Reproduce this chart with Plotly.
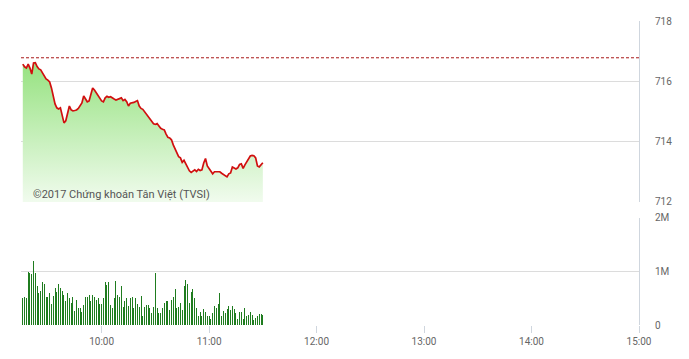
import pandas as pd
import plotly.graph_objects as go

# ---- data ----
ref_price = 716.78
price = [716.57, 716.48, 716.44, 716.57, 716.44, 716.24, 716.61, 716.62, 716.49, 716.41,
         716.38, 716.29, 716.18, 716.08, 716.04, 715.98, 715.78, 715.55, 715.25, 715.12,
         715.08, 715.12, 714.88, 714.62, 714.69, 714.95, 715.18, 715.05, 715.02, 715.03,
         715.05, 715.10, 715.20, 715.28, 715.51, 715.41, 715.32, 715.35, 715.55, 715.78,
         715.71, 715.61, 715.51, 715.41, 715.35, 715.32, 715.45, 715.50, 715.47, 715.49,
         715.44, 715.41, 715.38, 715.40, 715.44, 715.45, 715.36, 715.40, 715.32, 715.18,
         715.27, 715.28, 715.30, 715.33, 715.36, 715.18, 715.10, 715.07, 714.99, 714.94,
         714.85, 714.77, 714.69, 714.59, 714.57, 714.60, 714.52, 714.44, 714.41, 714.39,
         714.25, 714.14, 714.12, 714.06, 713.89, 713.76, 713.66, 713.50, 713.46, 713.31,
         713.38, 713.26, 713.11, 713.03, 712.98, 713.01, 713.06, 713.01, 713.08, 713.04,
         713.06, 713.29, 713.44, 713.19, 713.09, 713.00, 712.93, 713.00, 713.00, 713.01,
         713.00, 712.95, 712.91, 712.85, 712.83, 712.93, 712.96, 713.16, 713.13, 713.09,
         713.13, 713.24, 713.26, 713.11, 713.23, 713.34, 713.44, 713.52, 713.54, 713.53,
         713.46, 713.19, 713.16, 713.24, 713.30]

volume_m = [0.50,
            0.53, 0.51, 1.00, 0.97, 0.95, 1.20, 0.98, 0.72, 0.59, 0.64, 0.80, 0.76, 0.53, 0.53,
            0.59, 0.39, 0.55, 0.70, 0.62, 0.76, 0.69, 0.64, 0.57, 0.44, 0.59, 0.51, 0.41, 0.53,
            0.26, 0.47, 0.31, 0.31, 0.25, 0.37, 0.53, 0.53, 0.57, 0.44, 0.57, 0.53, 0.47,
            0.50, 0.39, 0.39, 0.50, 0.80, 0.75, 0.81, 0.37, 0.32, 0.50, 0.82, 0.56, 0.53, 0.72,
            0.34, 0.44, 0.50, 0.36, 0.51, 0.53, 0.31, 0.50, 0.39, 0.34, 0.54, 0.16, 0.34, 0.37,
            0.37, 0.31, 0.22, 0.34, 0.98, 0.31, 0.22, 0.22, 0.31, 0.41, 0.45, 0.44, 0.28, 0.47,
            0.53, 0.67, 0.31, 0.34, 0.41,
            0.28, 0.73, 0.84, 0.76, 0.41, 0.61, 0.67, 0.51, 0.31, 0.17, 0.24, 0.17, 0.30, 0.24,
            0.17, 0.17, 0.12, 0.22, 0.36, 0.31, 0.39, 0.59, 0.17, 0.26, 0.22, 0.30, 0.36, 0.28,
            0.36, 0.30, 0.22, 0.11, 0.25, 0.24, 0.12, 0.31, 0.17, 0.19, 0.24, 0.19, 0.09, 0.14,
            0.17, 0.20, 0.20, 0.19]

session_start = "2017-01-01 09:16"
times = pd.date_range(session_start, periods=len(price), freq="1min")

x_range = ["2017-01-01 09:15", "2017-01-01 15:00"]
x_tickvals = ["2017-01-01 10:00", "2017-01-01 11:00", "2017-01-01 12:00",
              "2017-01-01 13:00", "2017-01-01 14:00", "2017-01-01 15:00"]
x_ticktext = ["10:00", "11:00", "12:00", "13:00", "14:00", "15:00"]
price_ticks = [712, 714, 716, 718]
vol_ticks = [0, 1, 2]
vol_ticktext = ["0", "1M", "2M"]
watermark = "©2017 Chứng khoán Tân Việt (TVSI)"

GRID = "#dcdcdc"
FRAME = "#cfd6de"
TXT = "#666666"
FONT = "Roboto"

fig = go.Figure()
fig.add_trace(go.Scatter(
    x=times, y=price, mode="lines",
    line=dict(color="#d10f0f", width=1.7),
    fill="tozeroy",
    fillgradient=dict(type="vertical",
                      colorscale=[[0, "rgb(240,251,237)"], [1, "rgb(150,226,128)"]],
                      start=712, stop=716.6),
    yaxis="y", xaxis="x", hoverinfo="skip", showlegend=False))

# one bar = about one pixel wide (the axis gives ~1.79 px per minute)
bar_width_ms = 33500
fig.add_trace(go.Bar(
    x=times, y=volume_m, marker=dict(color="rgba(28,122,28,0.99)", line=dict(width=0)),
    width=bar_width_ms, yaxis="y2", xaxis="x", showlegend=False, hoverinfo="skip"))

fig.add_shape(type="line", xref="paper", x0=0, x1=1, yref="y", y0=ref_price, y1=ref_price,
              line=dict(color="#a81818", width=1, dash="3px,2px"))

fig.add_annotation(text=watermark, xref="paper", yref="y", x=0.016, y=712.23,
                   xanchor="left", yanchor="middle", showarrow=False,
                   font=dict(family=FONT, size=11, color="#555555"))

fig.update_layout(
    width=689, height=359,
    margin=dict(l=21, r=50, t=21, b=34),
    paper_bgcolor="white", plot_bgcolor="white",
    bargap=0,
    font=dict(family=FONT, size=10, color=TXT),
    xaxis=dict(type="date", range=x_range, anchor="y2",
               tickvals=x_tickvals, ticktext=x_ticktext,
               showgrid=False, zeroline=False, showline=False,
               ticks="outside", ticklen=7, tickcolor=FRAME,
               tickfont=dict(family=FONT, size=10, color=TXT)),
    yaxis=dict(domain=[0.405, 1.0], range=[712, 718], side="right", anchor="x",
               tickvals=price_ticks, showgrid=True, gridcolor=GRID, zeroline=False,
               showline=True, linecolor=FRAME, linewidth=1,
               ticks="outside", ticklen=13, tickcolor="rgba(0,0,0,0)",
               tickfont=dict(family=FONT, size=10, color=TXT)),
    yaxis2=dict(domain=[0.0, 0.352], range=[0, 2], side="right", anchor="x",
                tickvals=vol_ticks, ticktext=vol_ticktext,
                showgrid=True, gridcolor=GRID, zeroline=False,
                showline=True, linecolor=FRAME, linewidth=1,
                ticks="outside", ticklen=13, tickcolor="rgba(0,0,0,0)",
                tickfont=dict(family=FONT, size=10, color=TXT)),
)

fig.write_html("out.html")
